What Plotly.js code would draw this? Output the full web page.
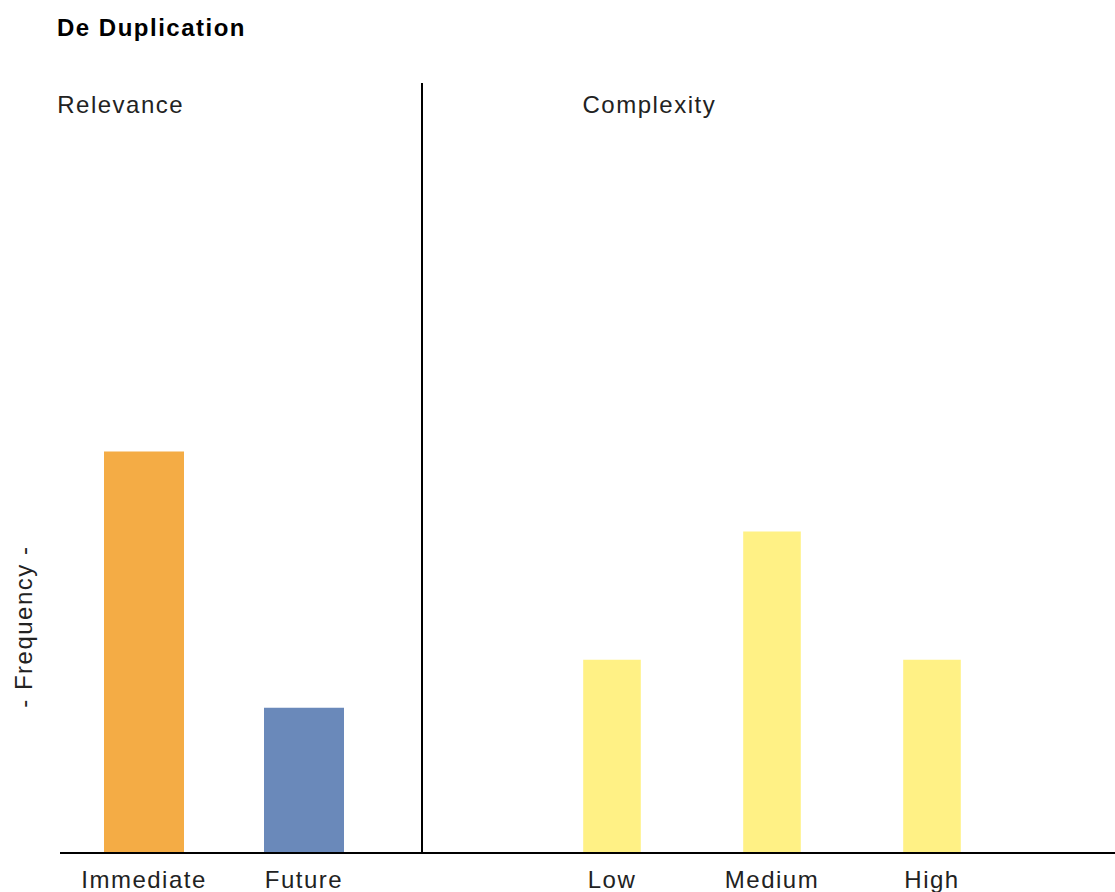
<!DOCTYPE html>
<html>
<head>
<meta charset="utf-8">
<script src="https://cdn.plot.ly/plotly-3.0.1.min.js"></script>
<style>
html, body { margin: 0; padding: 0; background: #fff; }
#chart { width: 1115px; height: 892px; }
#chart text { letter-spacing: 1.5px; }
</style>
</head>
<body>
<div id="chart"></div>
<script>
// ---- data ----
const chartTitle = 'De Duplication';
const yTitle = '- Frequency -';
const relevanceLabel = 'Relevance';
const complexityLabel = 'Complexity';
const relevanceCats = ['Immediate', 'Future'];
const relevanceVals = [25, 9];
const complexityCats = ['Low', 'Medium', 'High'];
const complexityVals = [12, 20, 12];

// ---- styles ----
const relevanceColors = ['#F4AC45', '#6A89BA'];
const complexityColor = '#FFF185';
const FONT = '"Liberation Sans", Arial, sans-serif';
const W = 1115, H = 892;
const L = 60, T = 83, B = 40;
const divX = 423;
const plotW = W - L;
const plotH = H - T - B;
const split = (divX - L) / plotW;

const traces = [
  {
    type: 'bar', x: relevanceCats, y: relevanceVals,
    xaxis: 'x', yaxis: 'y', width: 0.5,
    marker: { color: relevanceColors, line: { width: 0 } },
    hoverinfo: 'x+y', showlegend: false
  },
  {
    type: 'bar', x: complexityCats, y: complexityVals,
    xaxis: 'x2', yaxis: 'y2', width: 0.36,
    marker: { color: complexityColor, line: { width: 0 } },
    hoverinfo: 'x+y', showlegend: false
  }
];

const axisCommon = {
  type: 'category', showgrid: false, zeroline: false,
  showline: true, linecolor: '#000', linewidth: 2,
  ticks: '', ticklabelstandoff: 5,
  tickfont: { family: FONT, size: 24, color: '#222' },
  fixedrange: true
};
const yCommon = {
  range: [0, 48], showgrid: false, zeroline: false,
  showticklabels: false, ticks: '', fixedrange: true
};

const layout = {
  width: W, height: H,
  margin: { l: L, r: 0, t: T, b: B, pad: 0 },
  paper_bgcolor: '#fff', plot_bgcolor: '#fff',
  font: { family: FONT, color: '#222' },
  title: {
    text: '<b>' + chartTitle + '</b>',
    font: { family: FONT, size: 24, color: '#000' },
    xref: 'container', yref: 'container',
    x: 57 / W, xanchor: 'left',
    y: 1 - 28 / H, yanchor: 'middle'
  },
  xaxis: Object.assign({}, axisCommon, {
    domain: [0, split], range: [-0.525, 1.74375], anchor: 'y'
  }),
  xaxis2: Object.assign({}, axisCommon, {
    domain: [split, 1], range: [-1.18125, 3.14375], anchor: 'y2'
  }),
  yaxis: Object.assign({}, yCommon, { anchor: 'x', showline: false }),
  yaxis2: Object.assign({}, yCommon, {
    anchor: 'x2', showline: true, linecolor: '#000', linewidth: 2, side: 'left'
  }),
  annotations: [
    {
      text: relevanceLabel, xref: 'paper', yref: 'paper',
      x: (62 - L) / plotW, xanchor: 'left',
      y: (H - B - 105) / plotH, yanchor: 'middle',
      showarrow: false, font: { family: FONT, size: 24, color: '#222' }
    },
    {
      text: complexityLabel, xref: 'paper', yref: 'paper',
      x: (588 - L) / plotW, xanchor: 'left',
      y: (H - B - 105) / plotH, yanchor: 'middle',
      showarrow: false, font: { family: FONT, size: 24, color: '#222' }
    },
    {
      text: yTitle, xref: 'paper', yref: 'paper', textangle: -90,
      x: (23 - L) / plotW, xanchor: 'center',
      y: (H - B - 627) / plotH, yanchor: 'middle',
      showarrow: false, font: { family: FONT, size: 24, color: '#222' }
    }
  ]
};

Plotly.newPlot('chart', traces, layout, { displayModeBar: false, staticPlot: true });
</script>
</body>
</html>
